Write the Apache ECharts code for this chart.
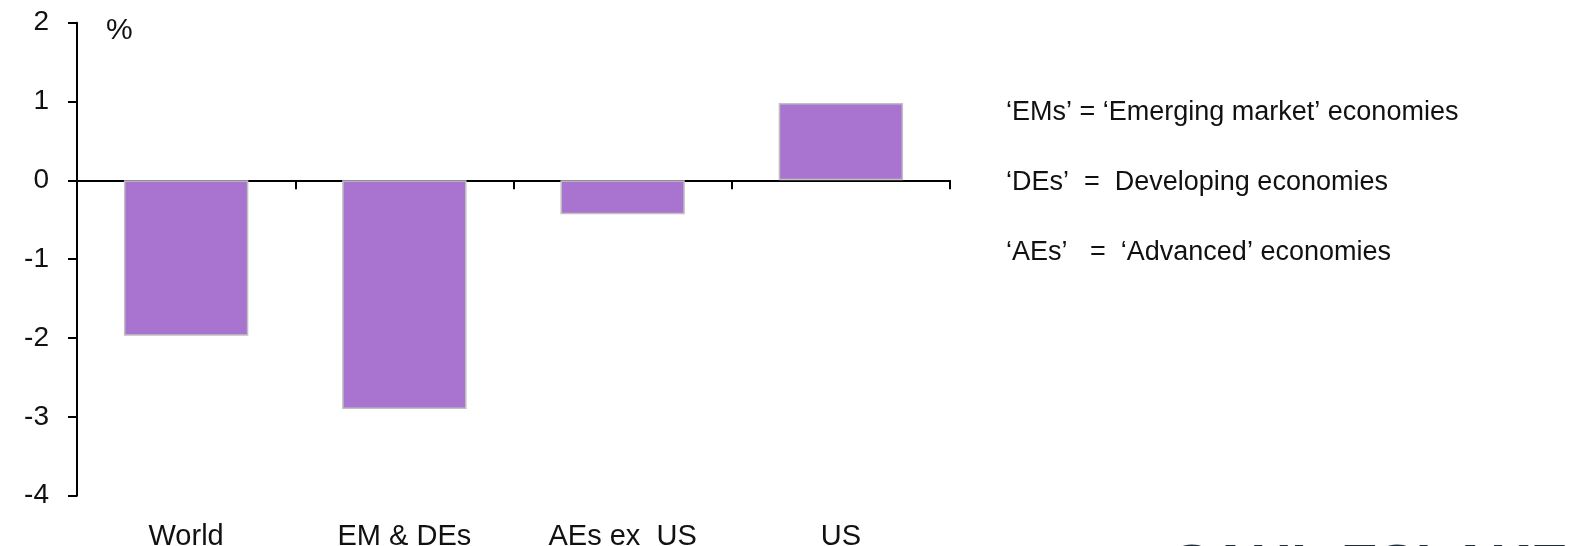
<!DOCTYPE html>
<html>
<head>
<meta charset="utf-8">
<script src="https://cdn.jsdelivr.net/npm/echarts@6/dist/echarts.min.js"></script>
<style>
html,body{margin:0;padding:0;background:#fff;}
#chart{width:1583px;height:546px;}
</style>
</head>
<body>
<div id="chart"></div>
<script>
const categories = ['World', 'EM & DEs', 'AEs ex  US', 'US'];
const values = [-1.97, -2.90, -0.43, 0.98];
const yTicks = { min: -4, max: 2, interval: 1 };
const notes = [
  '\u2018EMs\u2019 = \u2018Emerging market\u2019 economies',
  '\u2018DEs\u2019  =  Developing economies',
  '\u2018AEs\u2019   =  \u2018Advanced\u2019 economies'
];
const unitLabel = '%';
const logoText = 'SAUL ESLAKE';

const FONT = '"Liberation Sans", Arial, sans-serif';
const chart = echarts.init(document.getElementById('chart'), null, { renderer: 'canvas' });
chart.setOption({
  animation: false,
  backgroundColor: '#ffffff',
  grid: { left: 77, right: 633, top: 22.7, bottom: 50.3, containLabel: false, outerBoundsMode: 'none' },
  xAxis: [
    {
      type: 'category',
      data: categories,
      axisLine: { show: true, onZero: true, lineStyle: { color: '#000', width: 2 } },
      axisTick: { show: true, length: 9, inside: false, lineStyle: { color: '#000', width: 2 } },
      axisLabel: { show: false },
      splitLine: { show: false }
    },
    {
      type: 'category',
      data: categories,
      position: 'bottom',
      axisLine: { show: false, onZero: false },
      axisTick: { show: false },
      axisLabel: { show: true, margin: 27, fontSize: 29, color: '#111', fontFamily: FONT, verticalAlign: 'top' },
      splitLine: { show: false }
    }
  ],
  yAxis: {
    type: 'value',
    min: yTicks.min, max: yTicks.max, interval: yTicks.interval,
    axisLine: { show: true, lineStyle: { color: '#000', width: 2 } },
    axisTick: { show: true, length: 9, lineStyle: { color: '#000', width: 2 } },
    axisLabel: { margin: 28, fontSize: 28, color: '#111', fontFamily: FONT },
    splitLine: { show: false }
  },
  series: [{
    type: 'bar',
    xAxisIndex: 0,
    data: values,
    barWidth: '57%',
    itemStyle: { color: '#a874d0', borderColor: '#c0c0c0', borderWidth: 1.5 }
  }],
  graphic: [
    { type: 'text', x: 106, y: 31, style: { text: unitLabel, fontSize: 30, fontFamily: FONT, fill: '#111', textVerticalAlign: 'middle' } },
    { type: 'text', x: 1006, y: 113, style: { text: notes[0], fontSize: 27, fontFamily: FONT, fill: '#111', textVerticalAlign: 'middle' } },
    { type: 'text', x: 1006, y: 183, style: { text: notes[1], fontSize: 27, fontFamily: FONT, fill: '#111', textVerticalAlign: 'middle' } },
    { type: 'text', x: 1006, y: 253, style: { text: notes[2], fontSize: 27, fontFamily: FONT, fill: '#111', textVerticalAlign: 'middle' } },
    { type: 'text', x: 1173, y: 540, style: { text: logoText, fontSize: 56, fontWeight: 'bold', fontFamily: FONT, fill: '#1f2d3a', textVerticalAlign: 'top' } }
  ]
});
</script>
</body>
</html>
